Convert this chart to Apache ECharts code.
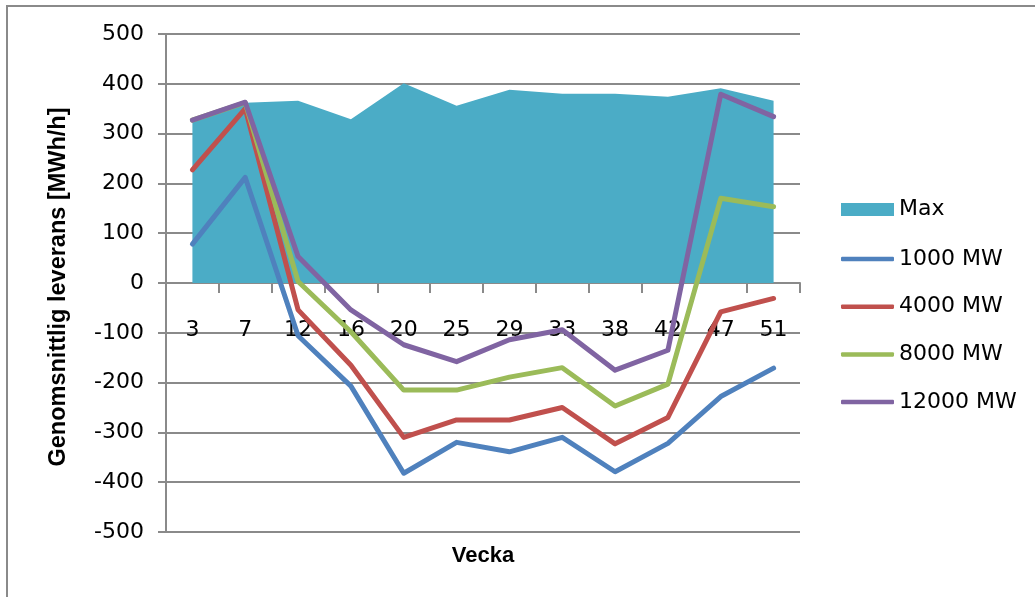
<!DOCTYPE html>
<html>
<head>
<meta charset="utf-8">
<script src="https://cdn.jsdelivr.net/npm/echarts@6/dist/echarts.min.js"></script>
<style>
  html, body { margin: 0; padding: 0; background: #fff; }
  #chart { width: 1035px; height: 597px; }
</style>
</head>
<body>
<div id="chart"></div>
<script>
const weeks = ['3', '7', '12', '16', '20', '25', '29', '33', '38', '42', '47', '51'];
const maxVals = [328, 362, 366, 329, 401, 356, 388, 380, 380, 374, 391, 366];
const mw1000 = [78, 212, -106, -207, -382, -320, -339, -310, -379, -322, -228, -171];
const mw4000 = [227, 350, -54, -165, -310, -275, -275, -250, -323, -270, -58, -31];
const mw8000 = [327, 362, 3, -98, -215, -215, -189, -170, -247, -203, 170, 153];
const mw12000 = [327, 363, 53, -54, -124, -158, -114, -94, -175, -135, 379, 334];
const yTicks = { min: -500, max: 500, interval: 100 };
const names = ['Max', '1000 MW', '4000 MW', '8000 MW', '12000 MW'];
const colors = ['#4BACC6', '#4F81BD', '#C0504D', '#9BBB59', '#8064A2'];

const chart = echarts.init(document.getElementById('chart'), null, { renderer: 'canvas' });
const txtFont = 'DejaVu Sans';
const gridTop = 34, gridBottom = 65, chartH = 597;
const plotH = chartH - gridTop - gridBottom;
// distance from plot bottom up to the zero line
const zeroOffset = plotH * (0 - yTicks.min) / (yTicks.max - yTicks.min);

const lineSeries = (name, data, color) => ({
  name, type: 'line', data, symbol: 'none', showSymbol: false, smooth: false,
  lineStyle: { color, width: 5, cap: 'round', join: 'round' },
  itemStyle: { color }
});
const legendText = { fontFamily: txtFont, fontSize: 22, color: '#000', lineHeight: 22 };

chart.setOption({
  animation: false,
  backgroundColor: '#ffffff',
  grid: { left: 166, right: 235, top: gridTop, bottom: gridBottom, containLabel: false },
  graphic: [
    { type: 'rect', shape: { x: 7, y: 6, width: 1200, height: 800 },
      style: { fill: 'none', stroke: '#8a8a8a', lineWidth: 2 }, z: -1 },
    { type: 'text', x: 483, y: 556,
      style: { text: 'Vecka', font: 'bold 22px "Liberation Sans"', fill: '#000', align: 'center', verticalAlign: 'middle' } },
    { type: 'text', x: 59, y: 287, rotation: Math.PI / 2,
      style: { text: 'Genomsnittlig leverans [MWh/h]', font: 'bold 23.5px "Liberation Sans"', fill: '#000', align: 'center', verticalAlign: 'middle' } }
  ],
  legend: [
    {
      orient: 'vertical', left: 841, top: 198.5, padding: 0, itemWidth: 53, itemHeight: 13, itemGap: 25.5,
      textStyle: legendText, selectedMode: false,
      data: [{ name: names[0], icon: 'rect' }]
    },
    {
      orient: 'vertical', left: 841, top: 248, padding: 0, itemWidth: 53, itemHeight: 4.5, itemGap: 25.7,
      textStyle: legendText, selectedMode: false, icon: 'roundRect',
      data: [names[1], names[2], names[3], names[4]]
    }
  ],
  xAxis: {
    type: 'category', data: weeks, boundaryGap: true, position: 'bottom', offset: -zeroOffset,
    axisLine: { onZero: false, lineStyle: { color: '#8a8a8a', width: 2 } },
    axisTick: { show: true, length: 10, lineStyle: { color: '#8a8a8a', width: 2 } },
    axisLabel: { margin: 36, fontFamily: txtFont, fontSize: 22, color: '#000' },
    splitLine: { show: false }
  },
  yAxis: {
    type: 'value', min: yTicks.min, max: yTicks.max, interval: yTicks.interval,
    axisLine: { show: true, lineStyle: { color: '#8a8a8a', width: 2 } },
    axisTick: { show: true, length: 8, lineStyle: { color: '#8a8a8a', width: 2 } },
    axisLabel: { margin: 22, fontFamily: txtFont, fontSize: 22, color: '#000' },
    splitLine: { show: true, lineStyle: { color: '#8a8a8a', width: 2 } }
  },
  series: [
    { name: names[0], type: 'line', data: maxVals, symbol: 'none', showSymbol: false,
      lineStyle: { width: 0, color: colors[0] }, itemStyle: { color: colors[0] },
      areaStyle: { color: colors[0], opacity: 1 }, z: 1 },
    lineSeries(names[1], mw1000, colors[1]),
    lineSeries(names[2], mw4000, colors[2]),
    lineSeries(names[3], mw8000, colors[3]),
    lineSeries(names[4], mw12000, colors[4])
  ]
});
</script>
</body>
</html>
